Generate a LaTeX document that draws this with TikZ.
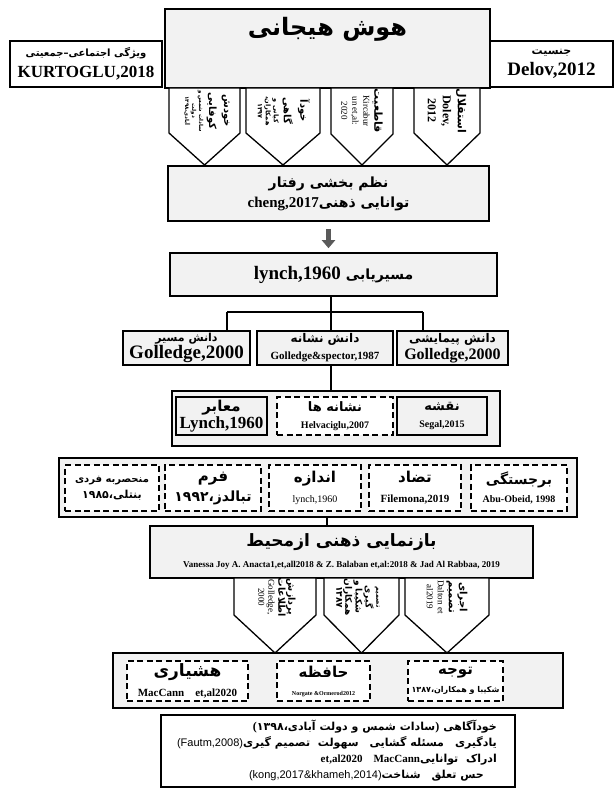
\documentclass[tikz,border=0pt]{standalone}
\usepackage{fontspec}
\setmainfont{Liberation Serif}
\newfontfamily\fa[Script=Arabic]{DejaVu Sans}
\newfontfamily\arial{Liberation Sans}
\TeXXeTstate=1
\usetikzlibrary{arrows.meta}

\definecolor{boxgray}{HTML}{F2F2F2}
\definecolor{arrowgray}{HTML}{5A5A5A}

\newcommand\fz[1]{\fontsize{#1}{#1}\selectfont}
\newcommand\pe[2]{{\fa\bfseries\fz{#1}#2}}
\newcommand\lt[2]{{\bfseries\fz{#1}#2}}
% xl, xr, top, shoulder, tip
\newcommand\pent[5]{\draw[pentline] (#1,#3) -- (#1,#4) -- ({(#1+#2)/2},#5) -- (#2,#4) -- (#2,#3) -- cycle;}

\tikzset{
  box/.style={draw, line width=1.6pt, fill=boxgray, inner sep=0pt, align=center},
  wbox/.style={box, fill=white},
  dbox/.style={draw, line width=2pt, dash pattern=on 6pt off 3.5pt, fill=white, inner sep=0pt, align=center},
  pentline/.style={line width=1.3pt, fill=white, line join=miter},
  ptxt/.style={rotate=-90, align=center, inner sep=0pt},
  conn/.style={line width=1.8pt},
  bigarrow/.style={line width=5pt, draw=arrowgray, -{Triangle[length=8pt,width=13pt,fill=arrowgray]}},
}

\begin{document}
\begin{tikzpicture}[x=1pt,y=-1pt]
\useasboundingbox (0,0) rectangle (615,789);

% emotional intelligence
\node[box, line width=1.3pt, minimum width=325pt, minimum height=79pt] (emo) at (327.5,48.5) {};
\node[inner sep=0pt] (emot) at (327.5,29) {\pe{24}{\beginR هوش هیجانی\endR}};
\node[wbox, minimum width=152pt, minimum height=46pt, font=\fz{21}] (social) at (86,64) {\pe{10}{\beginR ویژگی اجتماعی–جمعیتی\endR}\\\lt{17}{KURTOGLU,2018}};
\node[wbox, minimum width=123pt, minimum height=46pt, font=\fz{21}] (gender) at (551.5,64) {\pe{11}{\beginR جنسیت\endR}\\\lt{19}{Delov,2012}};

\pent{169}{240}{88}{133}{165}
\pent{246}{320}{88}{133}{165}
\pent{331}{393}{88}{134}{165}
\pent{414}{480}{88}{133}{165}
\node[ptxt, font=\fz{7}] (selfact) at (207,111) {\pe{10}{\beginR خودش\endR}\\[4pt]\pe{10}{\beginR کوفایی\endR}\\[3pt]\pe{5.5}{\beginR سادات شمس و\endR}\\\pe{5.5}{\beginR دولت\endR}\\\pe{5.5}{\beginR آبادی،۱۳۹۸\endR}};
\node[ptxt, font=\fz{8}] (selfaware) at (284,111) {\pe{10}{\beginR خودآ\endR}\\[4pt]\pe{10}{\beginR گاهی\endR}\\[2pt]\pe{6.5}{\beginR کیانی و\endR}\\\pe{6.5}{\beginR همکاران،\endR}\\\pe{6.5}{\beginR ۱۳۹۷\endR}};
\node[ptxt, font=\fz{11}] (assert) at (362,111) {\pe{11}{\beginR قاطعیت\endR}\\{\fz{9}Kircabur}\\{\fz{9}un et,al:}\\{\fz{9}2020}};
\node[ptxt, font=\fz{15}] (indep) at (447,111) {\pe{11}{\beginR استقلال\endR}\\\lt{12}{Dolev,}\\\lt{12}{2012}};

% behaviour
\node[box, minimum width=321pt, minimum height=55pt, font=\fz{20}] (order) at (328.5,193.5) {\pe{14}{\beginR نظم بخشی رفتار\endR}\\\lt{15}{cheng,2017}\pe{14}{\beginR توانایی ذهنی\endR}};
\node[box, minimum width=327pt, minimum height=43pt] (route) at (333.5,274.5) {\lt{19}{lynch,1960}\ \ \pe{14}{\beginR مسیریابی\endR}};
\draw[bigarrow, shorten <=7pt, shorten >=4pt] (order.south) -- (order.south |- route.north);

% knowledge
\coordinate (jn) at (331,312);
\coordinate (jl) at (227,312);
\coordinate (jr) at (423,312);
\node[box, minimum width=127pt, minimum height=34pt, font=\fz{17}] (knowroute) at (186.5,348) {\pe{11}{\beginR دانش مسیر\endR}\\\lt{19}{Golledge,2000}};
\node[box, minimum width=136pt, minimum height=34pt, font=\fz{17}] (knowmark) at (325,348) {\pe{12}{\beginR دانش نشانه\endR}\\\lt{11}{Golledge\&spector,1987}};
\node[box, minimum width=111pt, minimum height=34pt, font=\fz{17}] (knowsurvey) at (452.5,348) {\pe{12}{\beginR دانش پیمایشی\endR}\\\lt{16}{Golledge,2000}};
\draw[conn] (route.south -| jn) -- (jn);
\draw[conn] (jl) -- (jr);
\draw[conn] (jl) -- (knowroute.north -| jl);
\draw[conn] (jn) -- (knowmark.north -| jn);
\draw[conn] (jr) -- (knowsurvey.north -| jr);

% elements
\node[box, minimum width=328pt, minimum height=55pt] (elems) at (336,418.5) {};
\draw[conn] (knowmark.south -| jn) -- (elems.north -| jn);
\node[box, minimum width=91pt, minimum height=38pt, font=\fz{17}] (paths) at (221.5,416) {\pe{15}{\beginR معابر\endR}\\\lt{17}{Lynch,1960}};
\node[dbox, minimum width=116pt, minimum height=38pt, font=\fz{17}] (landmarks) at (335,416) {\pe{13}{\beginR نشانه ها\endR}\\\lt{10}{Helvaciglu,2007}};
\node[box, minimum width=90pt, minimum height=38pt, font=\fz{17}] (mapnode) at (442,416) {\pe{13}{\beginR نقشه\endR}\\\lt{10}{Segal,2015}};

% properties
\node[box, minimum width=518pt, minimum height=59pt] (props) at (318,487.5) {};
\node[dbox, minimum width=94pt, minimum height=46pt, font=\fz{16}] (unique) at (112,488) {\pe{10}{\beginR منحصربه فردی\endR}\\\pe{11}{\beginR بنتلی،۱۹۸۵\endR}};
\node[dbox, minimum width=96pt, minimum height=46pt, font=\fz{20}] (form) at (213,488) {\pe{15}{\beginR فرم\endR}\\\pe{14}{\beginR تبالدز،۱۹۹۲\endR}};
\node[dbox, minimum width=92pt, minimum height=46pt, font=\fz{20}] (size) at (315,488) {\pe{15}{\beginR اندازه\endR}\\{\fz{10}lynch,1960}};
\node[dbox, minimum width=92pt, minimum height=46pt, font=\fz{20}] (contrast) at (415,488) {\pe{15}{\beginR تضاد\endR}\\\lt{11}{Filemona,2019}};
\node[dbox, minimum width=96pt, minimum height=46pt, font=\fz{18}] (salience) at (519,488) {\pe{14}{\beginR برجستگی\endR}\\\lt{10}{Abu-Obeid, 1998}};

% representation
\coordinate (jm) at (327,520);
\node[box, minimum width=383pt, minimum height=52pt, font=\fz{21}] (repr) at (341.5,552) {\pe{17}{\beginR بازنمایی ذهنی ازمحیط\endR}\\\lt{9}{Vanessa Joy A. Anacta1,et,all2018 \& Z. Balaban et,al:2018 \& Jad Al Rabbaa, 2019}};
\draw[conn] (props.south -| jm) -- (repr.north -| jm);

\pent{234}{316}{578}{615}{653}
\pent{324}{399}{578}{615}{653}
\pent{405}{489}{578}{615}{653}
\node[ptxt, font=\fz{10}] (process) at (277,597) {\pe{9.5}{\beginR پردازش\endR}\\\pe{9.5}{\beginR اطلاعات\endR}\\{\fz{9}Golledge,}\\{\fz{9}2000}};
\node[ptxt, font=\fz{9}] (decide) at (358,597) {\pe{6.5}{\beginR تصمیم\endR}\\\pe{9}{\beginR گیری\endR}\\\pe{9}{\beginR شکیبا و\endR}\\\pe{9}{\beginR همکاران\endR}\\\pe{9}{\beginR ۱۳۸۷\endR}};
\node[ptxt, font=\fz{11}] (execute) at (447,597) {\pe{10}{\beginR اجرای\endR}\\\pe{10}{\beginR تصمیم\endR}\\{\fz{9}Dalton et}\\{\fz{9}al2019}};

% cognition
\node[box, minimum width=450pt, minimum height=55pt] (cog) at (338,680.5) {};
\node[dbox, minimum width=121pt, minimum height=40pt, font=\fz{20}] (alert) at (187.5,681) {\pe{17}{\beginR هشیاری\endR}\\\lt{11}{MacCann\quad et,al2020}};
\node[dbox, minimum width=93pt, minimum height=40pt, font=\fz{18}] (memory) at (323.5,681) {\pe{15}{\beginR حافظه\endR}\\\lt{6}{Norgate \&Ormerod2012}};
\node[dbox, minimum width=95pt, minimum height=40pt, font=\fz{18}] (attention) at (455.5,681) {\pe{15}{\beginR توجه\endR}\\\pe{8}{\beginR شکیبا و همکاران،۱۳۸۷\endR}};

% skills
\node[wbox, minimum width=354pt, minimum height=72pt] (skills) at (338,751) {};
\node[align=right, anchor=east, inner sep=0pt, font=\fz{16}] (skillst) at (497,751) {%
\lt{12}{(}\pe{11}{\beginR سادات شمس و دولت آبادی،۱۳۹۸\endR}\lt{12}{)}\ \pe{11}{\beginR خودآگاهی\endR}\\
{\arial\fz{11}(Fautm,2008)}\pe{11}{\beginR یادگیری\quad مسئله گشایی\quad سهولت\ \ تصمیم گیری\endR}\\
\lt{11}{et,al2020\quad MacCann}\pe{11}{\beginR ادراک\ \ توانایی\endR}\\
{\arial\fz{11}(kong,2017\&khameh,2014)}\pe{11}{\beginR حس تعلق\quad شناخت\endR}\hspace*{13pt}};
\end{tikzpicture}
\end{document}
